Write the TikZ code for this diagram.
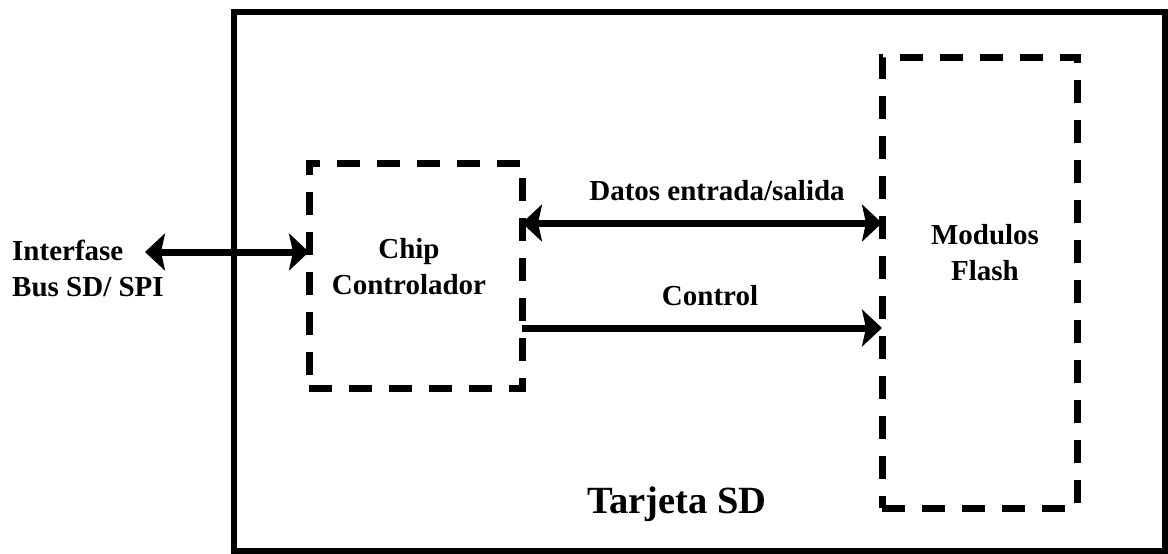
\documentclass[tikz,border=0pt]{standalone}
\usepackage{fontspec}
\setmainfont{Liberation Serif}
\usetikzlibrary{arrows.meta}
\begin{document}
\begin{tikzpicture}[x=1pt,y=-1pt,
  lbl/.style={font=\bfseries\fontsize{29}{36}\selectfont},
  dashbox/.style={draw,line width=7pt,dash pattern=on 23pt off 17pt,outer sep=0pt},
  flecha/.style={line width=7pt,-{Stealth[length=20pt,width=37pt,inset=4pt]}},
  dflecha/.style={line width=7pt,{Stealth[length=20pt,width=37pt,inset=4pt]}-{Stealth[length=20pt,width=37pt,inset=4pt]}}]
\tikzstyle{every node}+=[inner sep=0pt]
\useasboundingbox (0,0) rectangle (1168,554);
\draw [line width=6pt] (234,11.5) rectangle (1164.5,551);
\node [dashbox,minimum width=213pt,minimum height=225pt] (chip) at (415.5,275.5) {};
\node [dashbox,minimum width=195pt,minimum height=451pt] (flash) at (979.5,282.5) {};
\node [lbl,align=center] (chiptxt) at (409,267) {Chip\\Controlador};
\node [lbl,align=center] (flashtxt) at (985,253) {Modulos\\Flash};
\node [lbl,align=left,anchor=west] (bus) at (12,268) {Interfase\\Bus SD/ SPI};
\node [lbl,anchor=base] (datos) at (717,200) {Datos entrada/salida};
\node [lbl,anchor=base] (ctrl) at (710,305) {Control};
\node [font=\bfseries\fontsize{38.5}{46}\selectfont,anchor=base] (tarjeta) at (677,513) {Tarjeta SD};
\coordinate (busend) at (145,252);
\coordinate (datlin) at (700,223);
\coordinate (ctrllin) at (700,328);
\draw [dflecha] (busend) -- (busend -| chip.west);
\draw [dflecha] (chip.east |- datlin) -- (flash.west |- datlin);
\draw [flecha] (chip.east |- ctrllin) -- (flash.west |- ctrllin);
\end{tikzpicture}
\end{document}
